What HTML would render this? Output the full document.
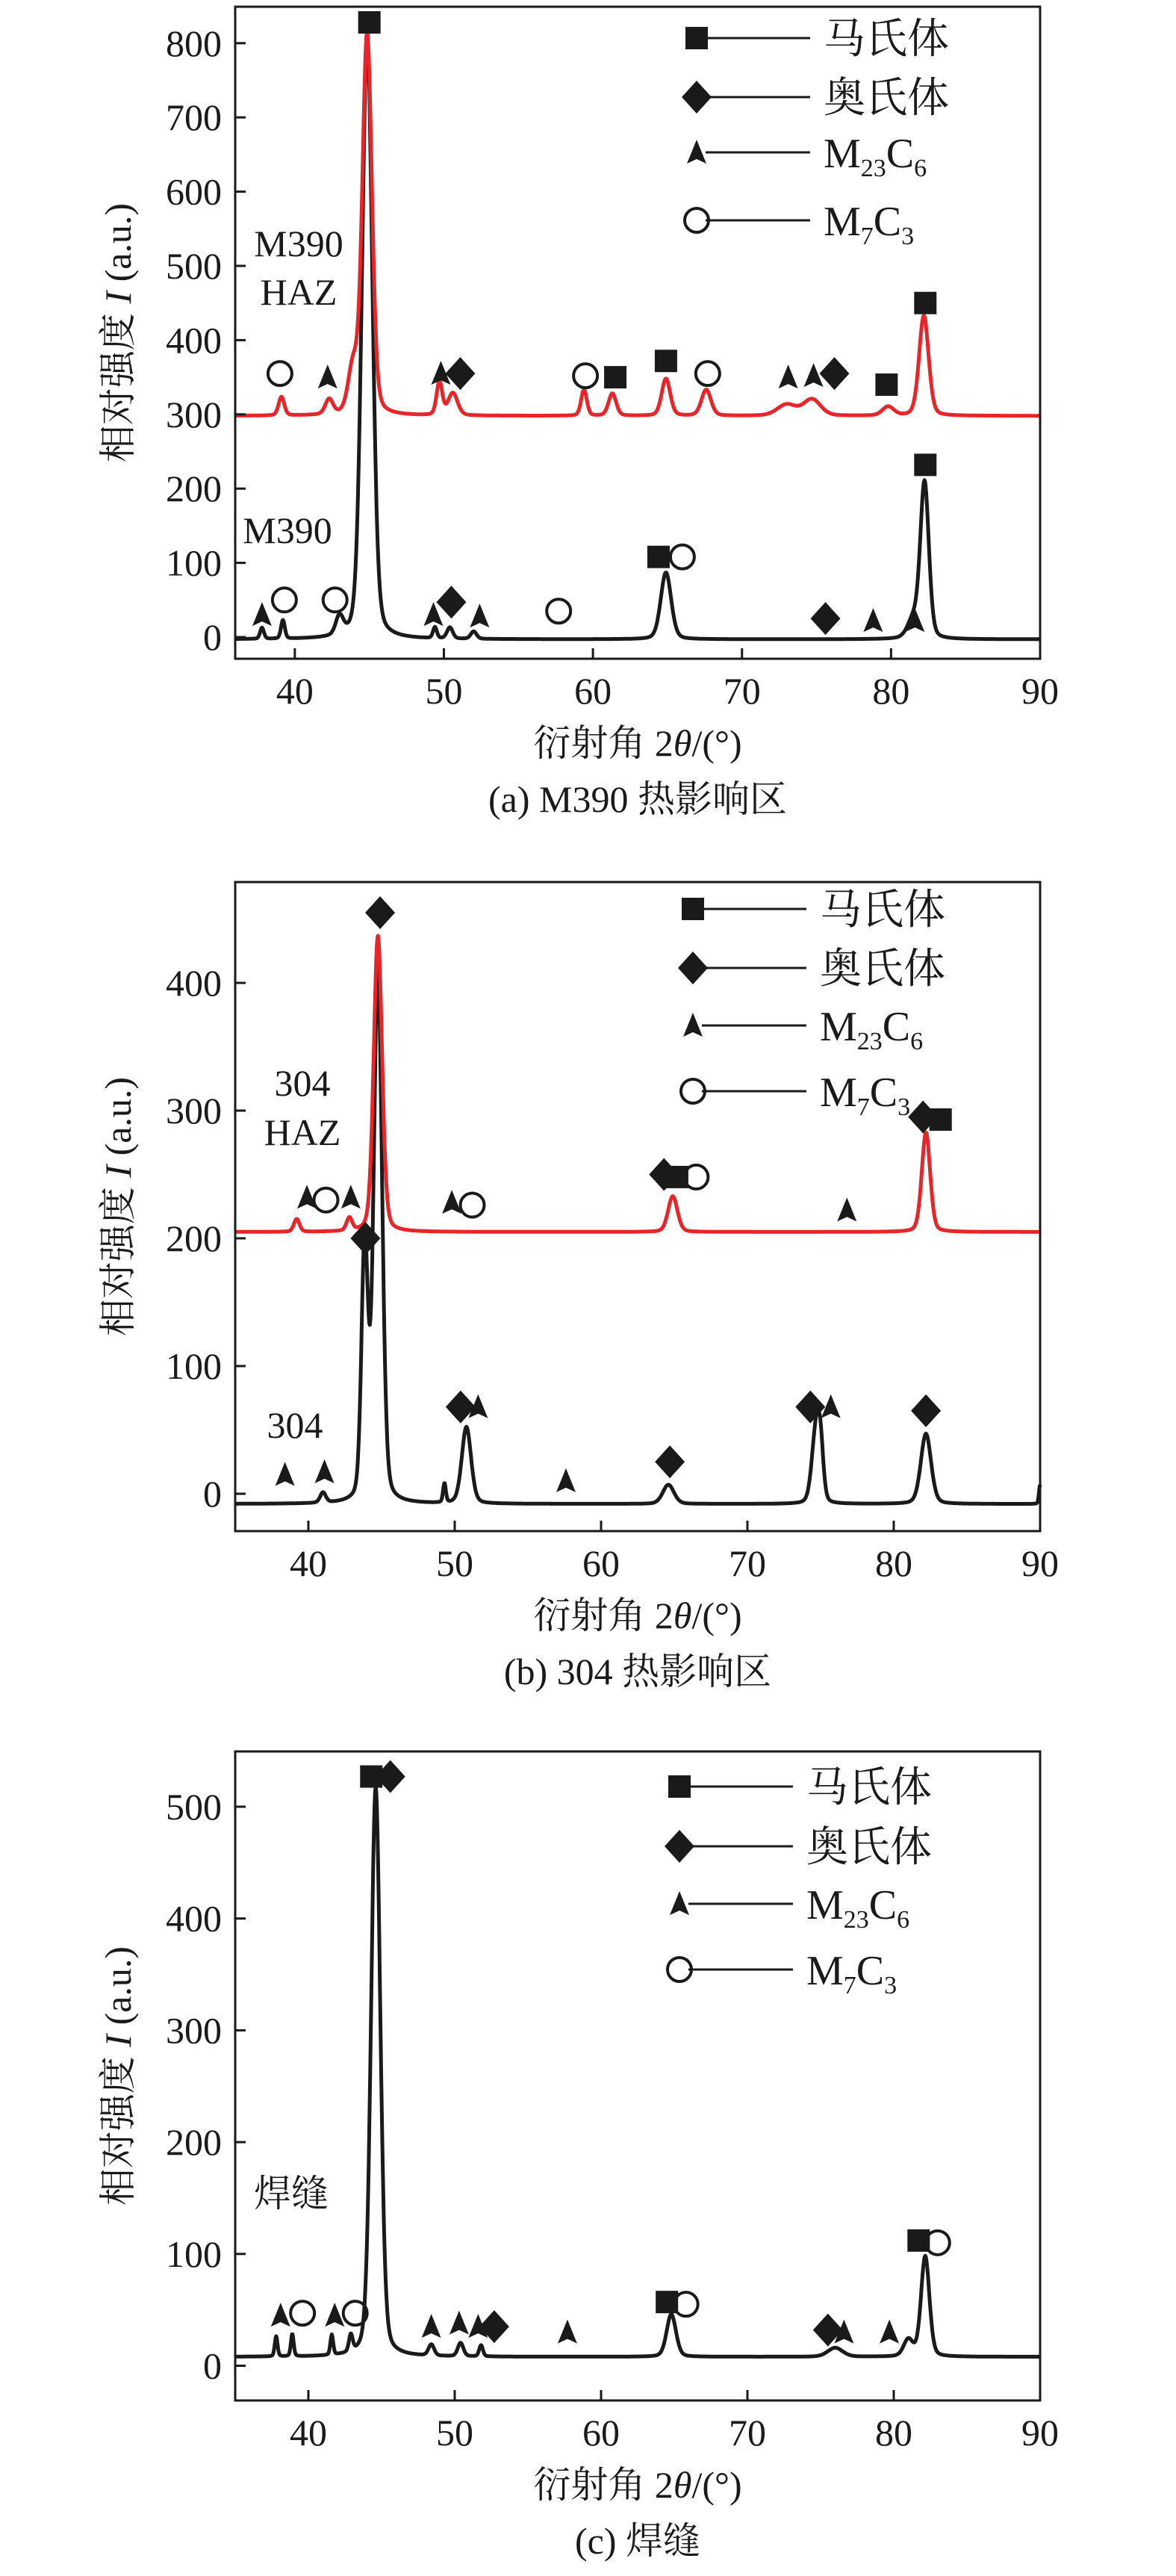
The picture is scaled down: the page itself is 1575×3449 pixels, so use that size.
<!DOCTYPE html>
<html><head><meta charset="utf-8">
<style>
html,body{margin:0;padding:0;background:#fff;}
svg{display:block;}
text{font-family:"Liberation Serif","Noto Serif CJK SC",serif;fill:#1a1a1a;}
</style></head>
<body>
<svg id="fig" width="1575" height="3449" viewBox="0 0 1575 3449" xmlns="http://www.w3.org/2000/svg"></svg>
<script>
// ---------- Chart (a) M390 HAZ ----------
const aRedBase = 298;
const aRedPos = [39.1, 42.3, 43.9, 44.85, 49.7, 50.6, 59.4, 61.3, 64.9, 67.6, 73.0, 74.7, 79.8, 82.2];
const aRedH   = [25, 20, 60, 515, 45, 30, 35, 30, 50, 35, 15, 22, 12, 135];
const aRedW   = [0.3, 0.4, 0.5, 0.5, 0.3, 0.5, 0.3, 0.4, 0.45, 0.5, 1.0, 0.9, 0.6, 0.5];
const aBlkBase = -3;
const aBlkPos = [37.8, 39.2, 43.0, 44.85, 49.4, 50.4, 52.0, 64.9, 81.5, 82.25];
const aBlkH   = [15, 25, 25, 810, 15, 15, 10, 90, 25, 210];
const aBlkW   = [0.2, 0.2, 0.4, 0.55, 0.2, 0.3, 0.3, 0.55, 0.6, 0.45];
const aMkKind = ['sq','ci','tr','tr','di','ci','sq','sq','ci','tr','tr','di','sq','sq',
                 'tr','ci','ci','tr','di','tr','ci','sq','ci','di','tr','tr','sq'];
const aMkX = [45.0,39.0,42.2,49.8,51.1,59.5,61.5,64.9,67.7,73.1,74.8,76.2,79.7,82.3,
              37.8,39.3,42.7,49.3,50.5,52.4,57.7,64.4,66.0,75.6,78.8,81.6,82.3];
const aMkY = [828,355,350,355,355,352,350,372,355,350,352,355,340,450,
              30,50,50,30,47,28,35,108,108,25,22,22,232];
const aYTicks = [0,100,200,300,400,500,600,700,800];
const aXTicks = [40,50,60,70,80,90];

// ---------- Chart (b) 304 HAZ ----------
const bRedBase = 205;
const bRedPos = [39.2, 42.8, 44.75, 64.9, 82.2];
const bRedH   = [10, 10, 232, 28, 78];
const bRedW   = [0.3, 0.3, 0.45, 0.5, 0.45];
const bBlkBase = -8;
const bBlkPos = [41.0, 43.85, 44.75, 49.3, 50.8, 64.6, 74.7, 75.0, 82.2, 90.0];
const bBlkH   = [8, 200, 418, 15, 60, 15, 60, 30, 55, 15];
const bBlkW   = [0.3, 0.35, 0.45, 0.15, 0.5, 0.6, 0.45, 0.3, 0.55, 0.12];
const bMkKind = ['di','tr','ci','tr','tr','ci','di','sq','ci','tr','di','sq',
                 'di','di','tr','di','tr','di','di','tr','tr','tr'];
const bMkX = [44.9,39.9,41.2,42.9,49.8,51.2,64.3,65.2,66.5,76.8,82.0,83.2,
              43.9,50.4,51.6,74.3,75.7,82.2,64.7,38.4,41.1,57.6];
const bMkY = [455,232,230,232,228,226,250,248,248,222,295,293,
              200,68,68,68,68,65,25,15,17,10];
const bYTicks = [0,100,200,300,400];
const bXTicks = [40,50,60,70,80,90];

// ---------- Chart (c) weld ----------
const cBase = 8;
const cPos = [37.8, 38.9, 41.6, 42.9, 44.6, 48.4, 50.4, 51.8, 64.8, 76.0, 81.0, 82.15];
const cH   = [18, 20, 18, 15, 510, 10, 12, 10, 38, 8, 15, 90];
const cW   = [0.15, 0.15, 0.15, 0.2, 0.5, 0.3, 0.3, 0.2, 0.5, 0.8, 0.5, 0.45];
const cMkKind = ['sq','di','tr','ci','tr','ci','tr','tr','tr','di','tr','sq','ci','di','tr','tr','sq','ci'];
const cMkX = [44.3,45.6,38.1,39.6,41.8,43.2,48.4,50.3,51.6,52.7,57.7,64.5,65.8,75.5,76.6,79.7,81.7,83.0];
const cMkY = [527,527,45,47,45,47,35,38,35,35,30,57,55,32,30,30,112,110];
const cYTicks = [0,100,200,300,400,500];
const cXTicks = [40,50,60,70,80,90];

const NS = 'http://www.w3.org/2000/svg';
const fig = document.getElementById('fig');
function el(tag, attrs, parent){
  const e = document.createElementNS(NS, tag);
  for (const k in attrs) e.setAttribute(k, attrs[k]);
  (parent||fig).appendChild(e);
  return e;
}
function prof(x, base, pos, h, w){
  let y = base;
  for (let i=0;i<pos.length;i++){
    const d = (x-pos[i])/(w[i]*0.75);
    y += h[i]*(0.25/(1+d*d) + 0.75*Math.exp(-d*d*0.693));
  }
  return y;
}
function marker(g, kind, cx, cy){
  let m;
  if (kind==='sq') m = el('rect',{x:cx-15,y:cy-15,width:30,height:30,fill:'#1a1a1a'},g);
  else if (kind==='di') m = el('polygon',{points:`${cx},${cy-22} ${cx+20},${cy} ${cx},${cy+22} ${cx-20},${cy}`,fill:'#1a1a1a'},g);
  else if (kind==='tr') m = el('polygon',{points:`${cx},${cy-17} ${cx+13},${cy+15} ${cx},${cy+9} ${cx-13},${cy+15}`,fill:'#1a1a1a'},g);
  else m = el('circle',{cx:cx,cy:cy,r:16,fill:'none',stroke:'#1a1a1a','stroke-width':4},g);
  return m;
}
function chart(o){
  const g = el('g',{});
  
  
  const X = v => o.left + (v-o.xmin)*(o.right-o.left)/(o.xmax-o.xmin);
  const Y = v => o.y0 - v*o.py;
  o.series.forEach(s=>{
    let d='';
    for (let x=o.xmin; x<=o.xmax+1e-9; x+=0.04){
      const v = prof(x, s.base, s.pos, s.h, s.w);
      d += (d?'L':'M') + X(x).toFixed(1) + ',' + Y(v).toFixed(1);
    }
    const p = el('path',{d:d,fill:'none',stroke:s.color,'stroke-width':5,'stroke-linejoin':'round'},g);
    
    
  });
  const box = el('rect',{x:o.left,y:o.top,width:o.right-o.left,height:o.bottom-o.top,fill:'none',stroke:'#1a1a1a','stroke-width':3},g);
  
  
  o.yt.forEach(v=>{
    el('line',{x1:o.left,x2:o.left+14,y1:Y(v),y2:Y(v),stroke:'#1a1a1a','stroke-width':3},g);
    const t = el('text',{x:o.left-18,y:Y(v)+17,'text-anchor':'end','font-size':50},g);
    t.textContent = v;
    
    
  });
  o.xt.forEach(v=>{
    el('line',{x1:X(v),x2:X(v),y1:o.bottom,y2:o.bottom-14,stroke:'#1a1a1a','stroke-width':3},g);
    const t = el('text',{x:X(v),y:o.bottom+60,'text-anchor':'middle','font-size':50},g);
    t.textContent = v;
    
    
  });
  for (let i=0;i<o.mk.length;i++){
    const m = marker(g, o.mk[i], X(o.mx[i]), Y(o.my[i]));
    
    
  }
  const yt = el('text',{transform:`translate(175,${(o.top+o.bottom)/2}) rotate(-90)`,'text-anchor':'middle','font-size':50},g);
  yt.innerHTML = '相对强度 <tspan font-style="italic">I</tspan> (a.u.)';
  
  
  const xt = el('text',{x:(o.left+o.right)/2,y:o.bottom+130,'text-anchor':'middle','font-size':50},g);
  xt.innerHTML = '衍射角 2<tspan font-style="italic">θ</tspan>/(°)';
  
  
  const cp = el('text',{x:(o.left+o.right)/2,y:o.bottom+205,'text-anchor':'middle','font-size':50},g);
  cp.textContent = o.caption;
  
  
  const lg = el('g',{},g);
  
  
  const kinds = ['sq','di','tr','ci'];
  const labels = ['马氏体','奥氏体','M<tspan font-size="34" dy="12">23</tspan><tspan dy="-12">C</tspan><tspan font-size="34" dy="12">6</tspan>','M<tspan font-size="34" dy="12">7</tspan><tspan dy="-12">C</tspan><tspan font-size="34" dy="12">3</tspan>'];
  for (let i=0;i<4;i++){
    const ly = o.legY[i];
    marker(lg, kinds[i], o.legX, ly);
    el('line',{x1:o.legX+12,x2:o.legX+152,y1:ly,y2:ly,stroke:'#1a1a1a','stroke-width':3},lg);
    const t = el('text',{x:o.legX+170,y:ly+20,'font-size':56},lg);
    t.innerHTML = labels[i];
    
    
  }
  o.notes.forEach(n=>{
    const t = el('text',{x:n[1],y:n[2],'text-anchor':'middle','font-size':50},g);
    t.textContent = n[0];
    
    
  });
}
chart({name:'chart-a-m390-haz', left:315,right:1393,top:9,bottom:882,xmin:36,xmax:90,y0:853,py:0.994,
  yt:aYTicks, xt:aXTicks,
  series:[{name:'m390-line',color:'#1a1a1a',base:aBlkBase,pos:aBlkPos,h:aBlkH,w:aBlkW},
          {name:'m390-haz-line',color:'#e8262a',base:aRedBase,pos:aRedPos,h:aRedH,w:aRedW}],
  mk:aMkKind,mx:aMkX,my:aMkY, caption:'(a) M390 热影响区',
  legX:933, legY:[51,130,204,295],
  notes:[['M390',400,343],['HAZ',400,408],['M390',385,727]]});
chart({name:'chart-b-304-haz', left:315,right:1393,top:1181,bottom:2050,xmin:35,xmax:90,y0:2000,py:1.71,
  yt:bYTicks, xt:bXTicks,
  series:[{name:'304-line',color:'#1a1a1a',base:bBlkBase,pos:bBlkPos,h:bBlkH,w:bBlkW},
          {name:'304-haz-line',color:'#e8262a',base:bRedBase,pos:bRedPos,h:bRedH,w:bRedW}],
  mk:bMkKind,mx:bMkX,my:bMkY, caption:'(b) 304 热影响区',
  legX:928, legY:[1217,1296,1373,1461],
  notes:[['304',405,1467],['HAZ',405,1533],['304',395,1925]]});
chart({name:'chart-c-weld', left:315,right:1393,top:2345,bottom:3214,xmin:35,xmax:90,y0:3167.5,py:1.497,
  yt:cYTicks, xt:cXTicks,
  series:[{name:'weld-line',color:'#1a1a1a',base:cBase,pos:cPos,h:cH,w:cW}],
  mk:cMkKind,mx:cMkX,my:cMkY, caption:'(c) 焊缝',
  legX:910, legY:[2392,2472,2549,2637],
  notes:[['焊缝',390,2954]]});
</script>
</body></html>
